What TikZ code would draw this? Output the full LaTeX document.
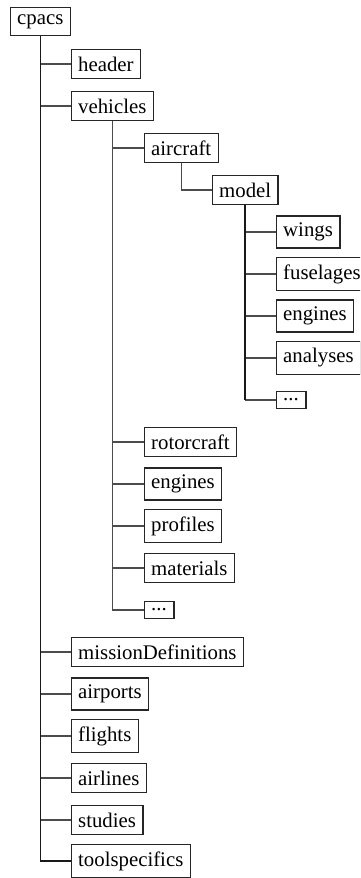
\documentclass[tikz,border=0pt]{standalone}
\usepackage{fontspec}
\setmainfont{Liberation Serif}
\begin{document}
\begin{tikzpicture}[x=1pt,y=-1pt,
  elem/.style={draw=black!85,line width=1.4pt,inner sep=7pt,anchor=west,
    font=\fontsize{20.8}{25}\selectfont,text=black},
  trunk/.style={draw=black!90,line width=1.4pt},
  branch/.style={draw=black!70,line width=1.2pt}]
\clip (0,0) rectangle (360,878);
\node[elem] (cpacs) at (9.5,21.5) {cpacs};
\node[elem] (header) at (70.5,64) {header};
\node[elem] (vehicles) at (70.5,106) {vehicles};
\node[elem] (aircraft) at (143.5,148) {aircraft};
\node[elem] (model) at (211.5,190) {model};
\node[elem] (wings) at (275.5,232) {wings};
\node[elem] (fuselages) at (275.5,274) {fuselages};
\node[elem] (mengines) at (275.5,316) {engines};
\node[elem] (analyses) at (275.5,358) {analyses};
\node[elem] (mdots) at (275.5,400) {...};
\node[elem] (rotorcraft) at (143.5,442) {rotorcraft};
\node[elem] (vengines) at (143.5,484) {engines};
\node[elem] (profiles) at (143.5,526) {profiles};
\node[elem] (materials) at (143.5,568) {materials};
\node[elem] (vdots) at (143.5,610) {...};
\node[elem] (mission) at (70.5,652) {missionDefinitions};
\node[elem] (airports) at (70.5,694) {airports};
\node[elem] (flights) at (70.5,736) {flights};
\node[elem] (airlines) at (70.5,778) {airlines};
\node[elem] (studies) at (70.5,820) {studies};
\node[elem] (tools) at (70.5,861) {toolspecifics};
% connectors
\foreach \c in {header,vehicles,mission,airports,flights,airlines,studies,tools}
  \draw[branch] (cpacs.south) |- (\c.west);
\draw[trunk] (cpacs.south) |- (tools.west);
\foreach \c in {aircraft,rotorcraft,vengines,profiles,materials,vdots}
  \draw[branch] (vehicles.south) |- (\c.west);
\draw[branch] (aircraft.south) |- (model.west);
\foreach \c in {wings,fuselages,mengines,analyses,mdots}
  \draw[branch] (model.south) |- (\c.west);
\draw[trunk] (model.south) -- (model.south |- mdots.west);
\end{tikzpicture}
\end{document}
